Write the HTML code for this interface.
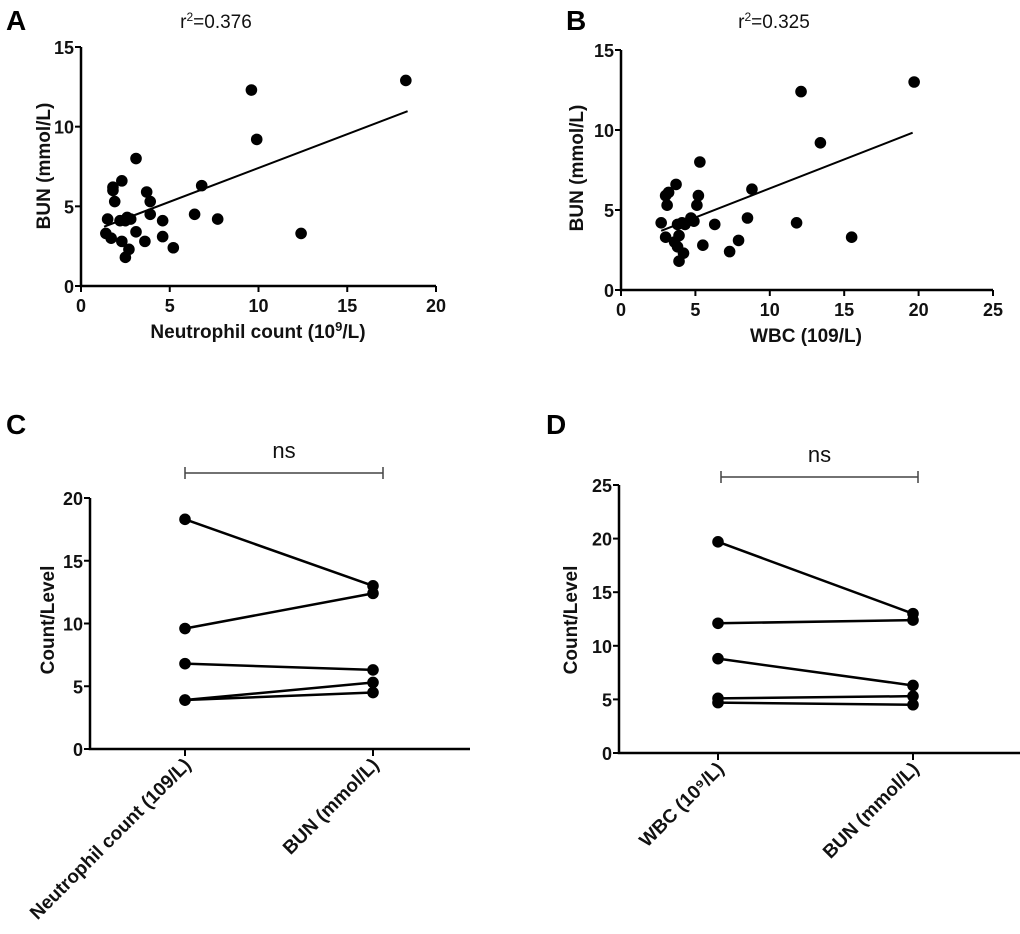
<!DOCTYPE html>
<html><head><meta charset="utf-8"><style>
html,body{margin:0;padding:0;background:#fff;}
svg{display:block;font-family:"Liberation Sans",Arial,sans-serif;}
.t{font-size:18px;font-weight:bold;fill:#111;}
.lab{font-size:19px;font-weight:bold;fill:#111;}
.pl{font-size:28px;font-weight:bold;fill:#000;}
</style></head><body>
<svg id="fig" width="1020" height="934" viewBox="0 0 1020 934">
<text class="pl" x="6" y="30">A</text>
<text class="pl" x="566" y="30">B</text>
<text class="pl" x="6" y="434">C</text>
<text class="pl" x="546" y="434">D</text>
<text x="216" y="28" font-size="19" fill="#111" text-anchor="middle">r<tspan dy="-7" font-size="12">2</tspan><tspan dy="7">=0.376</tspan></text>
<text x="774" y="28" font-size="19" fill="#111" text-anchor="middle">r<tspan dy="-7" font-size="12">2</tspan><tspan dy="7">=0.325</tspan></text>
<g id="gA"></g><g id="gB"></g><g id="gC"></g><g id="gD"></g>
</svg>
<script>
const aX=[18.3,9.6,9.9,3.1,2.3,1.8,1.8,1.9,3.7,3.9,3.9,6.8,6.4,7.7,12.4,1.5,1.4,1.7,2.2,2.6,2.8,2.5,3.1,2.3,3.6,4.6,4.6,5.2,2.7,2.5];
const aY=[12.9,12.3,9.2,8.0,6.6,6.2,6.0,5.3,5.9,5.3,4.5,6.3,4.5,4.2,3.3,4.2,3.3,3.0,4.1,4.3,4.2,4.1,3.4,2.8,2.8,4.1,3.1,2.4,2.3,1.8];
const aFit=[1.3,3.72,18.4,10.97];
const bX=[19.7,12.1,13.4,5.3,3.7,3.2,3.0,3.1,5.2,5.1,8.8,8.5,6.3,11.8,15.5,2.7,3.0,3.6,3.8,3.9,3.8,4.1,4.3,4.7,4.9,4.2,3.9,5.5,7.3,7.9];
const bY=[13.0,12.4,9.2,8.0,6.6,6.1,5.9,5.3,5.9,5.3,6.3,4.5,4.1,4.2,3.3,4.2,3.3,3.0,2.7,3.4,4.1,4.2,4.1,4.5,4.3,2.3,1.8,2.8,2.4,3.1];
const bFit=[2.7,3.7,19.6,9.83];
const cBefore=[18.3,9.6,6.8,3.9,3.9];
const cAfter=[13.0,12.4,6.3,5.3,4.5];
const dBefore=[19.7,12.1,8.8,5.1,4.7];
const dAfter=[13.0,12.4,6.3,5.3,4.5];
const aXTicks=[0,5,10,15,20], aYTicks=[0,5,10,15];
const bXTicks=[0,5,10,15,20,25], bYTicks=[0,5,10,15];
const cYTicks=[0,5,10,15,20], dYTicks=[0,5,10,15,20,25];
const NS='http://www.w3.org/2000/svg';
function mk(p,tag,at,txt){const e=document.createElementNS(NS,tag);for(const k in at)e.setAttribute(k,at[k]);if(txt!==undefined)e.textContent=txt;p.appendChild(e);return e;}
function scatter(g,cfg){
  const sx=v=>cfg.x0+(v-cfg.xmin)/(cfg.xmax-cfg.xmin)*(cfg.x1-cfg.x0);
  const sy=v=>cfg.y0-(v)/(cfg.ymax)*(cfg.y0-cfg.y1);
  let ax=mk(g,'path',{d:`M${cfg.x0},${cfg.y1}V${cfg.y0}H${cfg.x1}`,stroke:'#000','stroke-width':2.5,fill:'none'});
  
  cfg.xt.forEach(v=>{mk(g,'line',{x1:sx(v),x2:sx(v),y1:cfg.y0,y2:cfg.y0+6,stroke:'#000','stroke-width':2});
    const t=mk(g,'text',{class:'t',x:sx(v),y:cfg.y0+26,'text-anchor':'middle'},v);
    });
  cfg.yt.forEach(v=>{mk(g,'line',{x1:cfg.x0-6,x2:cfg.x0,y1:sy(v),y2:sy(v),stroke:'#000','stroke-width':2});
    const t=mk(g,'text',{class:'t',x:cfg.x0-7,y:sy(v)+7,'text-anchor':'end'},v);
    });
  const f=cfg.fit;
  const ln=mk(g,'line',{x1:sx(f[0]),y1:sy(f[1]),x2:sx(f[2]),y2:sy(f[3]),stroke:'#000','stroke-width':2});
  
  cfg.xs.forEach((v,i)=>{const c=mk(g,'circle',{cx:sx(v),cy:sy(cfg.ys[i]),r:5.8,fill:'#000'});
    });
}
function paired(g,cfg){
  const sy=v=>cfg.y0-v/cfg.ymax*(cfg.y0-cfg.y1);
  const ax=mk(g,'path',{d:`M${cfg.x0},${cfg.y1}V${cfg.y0}H${cfg.xe}`,stroke:'#000','stroke-width':2.5,fill:'none'});
  
  cfg.yt.forEach(v=>{mk(g,'line',{x1:cfg.x0-6,x2:cfg.x0,y1:sy(v),y2:sy(v),stroke:'#000','stroke-width':2});
    const t=mk(g,'text',{class:'t',x:cfg.x0-7,y:sy(v)+7,'text-anchor':'end'},v);
    });
  [cfg.c1,cfg.c2].forEach((cx,i)=>{mk(g,'line',{x1:cx,x2:cx,y1:cfg.y0,y2:cfg.y0+7,stroke:'#000','stroke-width':2});
    const t=mk(g,'text',{class:'lab',x:cx+7,y:cfg.y0+17,'text-anchor':'end',transform:`rotate(-45 ${cx+7} ${cfg.y0+17})`},cfg.cats[i]);
    });
  cfg.a.forEach((v,i)=>{const l=mk(g,'line',{x1:cfg.c1,y1:sy(v),x2:cfg.c2,y2:sy(cfg.b[i]),stroke:'#000','stroke-width':2.5});
    
    [[cfg.c1,v],[cfg.c2,cfg.b[i]]].forEach(p=>{const c=mk(g,'circle',{cx:p[0],cy:sy(p[1]),r:5.8,fill:'#000'});
      });});
  const br=mk(g,'path',{d:`M${cfg.b1},${cfg.by-6}V${cfg.by+6}M${cfg.b1},${cfg.by}H${cfg.b2}M${cfg.b2},${cfg.by-6}V${cfg.by+6}`,stroke:'#444','stroke-width':1.5,fill:'none'});
  
  const ns=mk(g,'text',{x:(cfg.b1+cfg.b2)/2,y:cfg.by-15,'font-size':22,fill:'#111','text-anchor':'middle'},'ns');
  
  const yl=mk(g,'text',{class:'lab',x:0,y:0,'text-anchor':'middle',transform:`translate(${cfg.ylx},${cfg.yly}) rotate(-90)`},'Count/Level');
  
}
scatter(document.getElementById('gA'),{x0:81,x1:436,xmin:0,xmax:20,y0:286,y1:47,ymax:15,xt:aXTicks,yt:aYTicks,xs:aX,ys:aY,fit:aFit});
scatter(document.getElementById('gB'),{x0:621,x1:993,xmin:0,xmax:25,y0:290,y1:50,ymax:15,xt:bXTicks,yt:bYTicks,xs:bX,ys:bY,fit:bFit});
paired(document.getElementById('gC'),{x0:90,xe:470,y0:749,y1:498,ymax:20,yt:cYTicks,c1:185,c2:373,a:cBefore,b:cAfter,cats:['Neutrophil count (109/L)','BUN (mmol/L)'],b1:185,b2:383,by:473,ylx:54,yly:620});
paired(document.getElementById('gD'),{x0:619,xe:1020,y0:753,y1:485,ymax:25,yt:dYTicks,c1:718,c2:913,a:dBefore,b:dAfter,cats:['WBC (10⁹/L)','BUN (mmol/L)'],b1:721,b2:918,by:477,ylx:577,yly:620});
const fig=document.getElementById('fig');
let t;
t=mk(fig,'text',{class:'lab',x:0,y:0,'text-anchor':'middle',transform:'translate(50,166) rotate(-90)'},'BUN (mmol/L)');


t=mk(fig,'text',{class:'lab',x:0,y:0,'text-anchor':'middle',transform:'translate(583,168) rotate(-90)'},'BUN (mmol/L)');


t=mk(fig,'text',{class:'lab',x:258,y:338,'text-anchor':'middle'});
t.innerHTML='Neutrophil count (10<tspan dy="-7" font-size="13">9</tspan><tspan dy="7">/L)</tspan>';


t=mk(fig,'text',{class:'lab',x:806,y:342,'text-anchor':'middle'},'WBC (109/L)');


</script>
</body></html>
